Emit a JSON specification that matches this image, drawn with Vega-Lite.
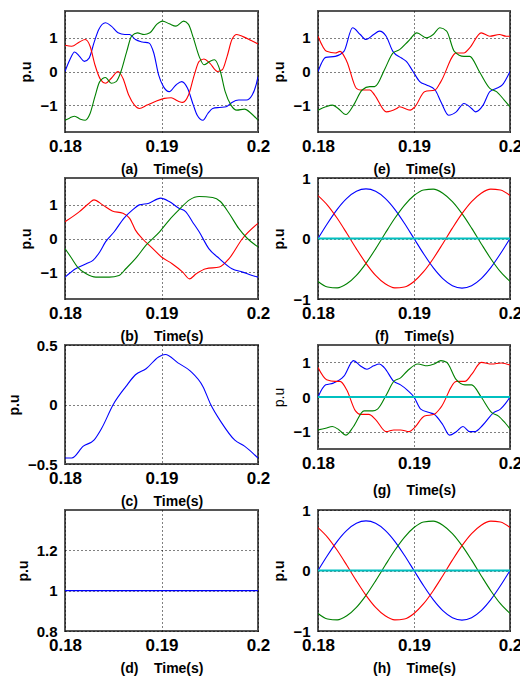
{
"$schema": "https://vega.github.io/schema/vega-lite/v6.json",
"padding": {"left": 6, "top": 10, "right": 0, "bottom": 0},
"columns": 2,
"spacing": {"row": 46, "column": 60},
"bounds": "flush",
"config": {
  "view": {"stroke": "#555555", "strokeWidth": 2},
  "font": "Liberation Sans",
  "axis": {"domain": false, "ticks": false, "grid": true, "gridColor": "#000000", "gridDash": [1, 3], "gridWidth": 1, "gridOpacity": 1,
    "labelFont": "Liberation Sans", "labelFontWeight": "bold", "labelColor": "#000000",
    "titleFont": "Liberation Sans", "titleFontWeight": "bold", "titleColor": "#000000", "titleFontSize": 14,
    "labelOverlap": false, "labelFlush": false, "labelBound": false},
  "axisX": {"labelFontSize": 17, "labelPadding": 6, "titlePadding": 8, "format": ".2~f"},
  "axisY": {"labelFontSize": 15, "labelPadding": 8, "titlePadding": 6, "format": "~g"}
},
"datasets": {
"a": [
{"t":0.18,"s":"b","v":0},{"t":0.1805,"s":"b","v":0.35},{"t":0.181,"s":"b","v":0.58},{"t":0.1815,"s":"b","v":0.45},{"t":0.182,"s":"b","v":0.3},{"t":0.1825,"s":"b","v":0.4},{"t":0.183,"s":"b","v":0.85},{"t":0.1835,"s":"b","v":1.25},{"t":0.1842,"s":"b","v":1.45},{"t":0.1848,"s":"b","v":1.35},{"t":0.1855,"s":"b","v":1.15},{"t":0.1862,"s":"b","v":1.1},{"t":0.1867,"s":"b","v":1.1},{"t":0.1873,"s":"b","v":0.95},{"t":0.188,"s":"b","v":0.88},{"t":0.1887,"s":"b","v":0.85},{"t":0.1892,"s":"b","v":0.55},{"t":0.1897,"s":"b","v":-0.1},{"t":0.1902,"s":"b","v":-0.45},{"t":0.1908,"s":"b","v":-0.6},{"t":0.1915,"s":"b","v":-0.4},{"t":0.1921,"s":"b","v":-0.3},{"t":0.1927,"s":"b","v":-0.5},{"t":0.1933,"s":"b","v":-1.0},{"t":0.1937,"s":"b","v":-1.3},{"t":0.1943,"s":"b","v":-1.45},{"t":0.1948,"s":"b","v":-1.25},{"t":0.1953,"s":"b","v":-1.1},{"t":0.196,"s":"b","v":-1.07},{"t":0.1967,"s":"b","v":-1.05},{"t":0.1973,"s":"b","v":-0.92},{"t":0.198,"s":"b","v":-0.85},{"t":0.1988,"s":"b","v":-0.85},{"t":0.1994,"s":"b","v":-0.7},{"t":0.1998,"s":"b","v":-0.4},{"t":0.2,"s":"b","v":-0.15},
{"t":0.18,"s":"r","v":0.78},{"t":0.1807,"s":"r","v":0.75},{"t":0.1815,"s":"r","v":0.88},{"t":0.1821,"s":"r","v":0.95},{"t":0.1826,"s":"r","v":0.75},{"t":0.1831,"s":"r","v":0.2},{"t":0.1837,"s":"r","v":-0.25},{"t":0.1842,"s":"r","v":-0.35},{"t":0.1848,"s":"r","v":-0.2},{"t":0.1855,"s":"r","v":0.0},{"t":0.186,"s":"r","v":-0.2},{"t":0.1866,"s":"r","v":-0.7},{"t":0.1872,"s":"r","v":-1.0},{"t":0.1877,"s":"r","v":-1.1},{"t":0.1885,"s":"r","v":-1.0},{"t":0.1893,"s":"r","v":-0.9},{"t":0.1903,"s":"r","v":-0.8},{"t":0.191,"s":"r","v":-0.78},{"t":0.1917,"s":"r","v":-0.88},{"t":0.1922,"s":"r","v":-0.92},{"t":0.1928,"s":"r","v":-0.7},{"t":0.1934,"s":"r","v":-0.1},{"t":0.1939,"s":"r","v":0.3},{"t":0.1944,"s":"r","v":0.37},{"t":0.195,"s":"r","v":0.25},{"t":0.1958,"s":"r","v":0.0},{"t":0.1963,"s":"r","v":0.05},{"t":0.1968,"s":"r","v":0.45},{"t":0.1973,"s":"r","v":0.95},{"t":0.1978,"s":"r","v":1.1},{"t":0.1985,"s":"r","v":1.03},{"t":0.1993,"s":"r","v":0.92},{"t":0.2,"s":"r","v":0.82},
{"t":0.18,"s":"g","v":-1.45},{"t":0.1805,"s":"g","v":-1.38},{"t":0.181,"s":"g","v":-1.33},{"t":0.1816,"s":"g","v":-1.42},{"t":0.1821,"s":"g","v":-1.45},{"t":0.1826,"s":"g","v":-1.25},{"t":0.1831,"s":"g","v":-0.75},{"t":0.1836,"s":"g","v":-0.3},{"t":0.1842,"s":"g","v":-0.18},{"t":0.1848,"s":"g","v":-0.35},{"t":0.1853,"s":"g","v":-0.3},{"t":0.1858,"s":"g","v":0.0},{"t":0.1864,"s":"g","v":0.6},{"t":0.1869,"s":"g","v":1.05},{"t":0.1875,"s":"g","v":1.15},{"t":0.1882,"s":"g","v":1.1},{"t":0.1888,"s":"g","v":1.15},{"t":0.1895,"s":"g","v":1.4},{"t":0.1901,"s":"g","v":1.5},{"t":0.1908,"s":"g","v":1.42},{"t":0.1915,"s":"g","v":1.35},{"t":0.1923,"s":"g","v":1.5},{"t":0.1928,"s":"g","v":1.4},{"t":0.1933,"s":"g","v":1.0},{"t":0.1939,"s":"g","v":0.45},{"t":0.1944,"s":"g","v":0.2},{"t":0.195,"s":"g","v":0.3},{"t":0.1955,"s":"g","v":0.35},{"t":0.1961,"s":"g","v":0.0},{"t":0.1966,"s":"g","v":-0.6},{"t":0.1972,"s":"g","v":-1.0},{"t":0.1978,"s":"g","v":-1.15},{"t":0.1986,"s":"g","v":-1.12},{"t":0.1993,"s":"g","v":-1.25},{"t":0.2,"s":"g","v":-1.45}
],
"e": [
{"t":0.18,"s":"b","v":0},{"t":0.1808,"s":"b","v":0.42},{"t":0.1818,"s":"b","v":0.45},{"t":0.1827,"s":"b","v":0.6},{"t":0.1836,"s":"b","v":1.3},{"t":0.1844,"s":"b","v":1.1},{"t":0.185,"s":"b","v":0.95},{"t":0.1858,"s":"b","v":1.1},{"t":0.1864,"s":"b","v":1.2},{"t":0.1871,"s":"b","v":1.05},{"t":0.1878,"s":"b","v":0.6},{"t":0.1887,"s":"b","v":0.4},{"t":0.1892,"s":"b","v":0.3},{"t":0.1899,"s":"b","v":0.0},{"t":0.1906,"s":"b","v":-0.3},{"t":0.1913,"s":"b","v":-0.4},{"t":0.1922,"s":"b","v":-0.55},{"t":0.1928,"s":"b","v":-0.9},{"t":0.1936,"s":"b","v":-1.3},{"t":0.1944,"s":"b","v":-1.2},{"t":0.1952,"s":"b","v":-0.95},{"t":0.196,"s":"b","v":-1.1},{"t":0.1964,"s":"b","v":-1.2},{"t":0.1972,"s":"b","v":-1.0},{"t":0.1979,"s":"b","v":-0.6},{"t":0.1986,"s":"b","v":-0.5},{"t":0.1992,"s":"b","v":-0.4},{"t":0.2,"s":"b","v":0.0},
{"t":0.18,"s":"r","v":1.05},{"t":0.1809,"s":"r","v":0.6},{"t":0.1818,"s":"r","v":0.55},{"t":0.1823,"s":"r","v":0.6},{"t":0.183,"s":"r","v":0.3},{"t":0.184,"s":"r","v":-0.5},{"t":0.1844,"s":"r","v":-0.55},{"t":0.1854,"s":"r","v":-0.55},{"t":0.1859,"s":"r","v":-0.7},{"t":0.1871,"s":"r","v":-1.2},{"t":0.1882,"s":"r","v":-1.1},{"t":0.1885,"s":"r","v":-1.05},{"t":0.1896,"s":"r","v":-1.15},{"t":0.1901,"s":"r","v":-1.05},{"t":0.1911,"s":"r","v":-0.6},{"t":0.1922,"s":"r","v":-0.55},{"t":0.1928,"s":"r","v":-0.3},{"t":0.1944,"s":"r","v":0.55},{"t":0.1952,"s":"r","v":0.55},{"t":0.1958,"s":"r","v":0.7},{"t":0.197,"s":"r","v":1.15},{"t":0.1979,"s":"r","v":1.05},{"t":0.1989,"s":"r","v":1.1},{"t":0.1996,"s":"r","v":1.05},{"t":0.2,"s":"r","v":1.05},
{"t":0.18,"s":"g","v":-1.15},{"t":0.1808,"s":"g","v":-1.05},{"t":0.1815,"s":"g","v":-1.0},{"t":0.1821,"s":"g","v":-1.1},{"t":0.1829,"s":"g","v":-1.28},{"t":0.1837,"s":"g","v":-1.0},{"t":0.1846,"s":"g","v":-0.55},{"t":0.1854,"s":"g","v":-0.45},{"t":0.1859,"s":"g","v":-0.45},{"t":0.187,"s":"g","v":0.1},{"t":0.1878,"s":"g","v":0.55},{"t":0.1885,"s":"g","v":0.65},{"t":0.1894,"s":"g","v":0.9},{"t":0.1903,"s":"g","v":1.15},{"t":0.1913,"s":"g","v":1.0},{"t":0.192,"s":"g","v":1.1},{"t":0.1927,"s":"g","v":1.3},{"t":0.1934,"s":"g","v":1.2},{"t":0.1942,"s":"g","v":0.6},{"t":0.1952,"s":"g","v":0.45},{"t":0.1958,"s":"g","v":0.45},{"t":0.1968,"s":"g","v":0.0},{"t":0.1979,"s":"g","v":-0.5},{"t":0.1986,"s":"g","v":-0.6},{"t":0.1994,"s":"g","v":-0.85},{"t":0.2,"s":"g","v":-1.05}
],
"b": [
{"t":0.18,"s":"r","v":0.5},{"t":0.1815,"s":"r","v":0.8},{"t":0.1825,"s":"r","v":1.05},{"t":0.183,"s":"r","v":1.15},{"t":0.1839,"s":"r","v":1.0},{"t":0.1849,"s":"r","v":0.82},{"t":0.186,"s":"r","v":0.75},{"t":0.1867,"s":"r","v":0.6},{"t":0.1873,"s":"r","v":0.25},{"t":0.188,"s":"r","v":0.0},{"t":0.1891,"s":"r","v":-0.3},{"t":0.19,"s":"r","v":-0.55},{"t":0.1911,"s":"r","v":-0.75},{"t":0.1922,"s":"r","v":-1.0},{"t":0.1929,"s":"r","v":-1.2},{"t":0.1936,"s":"r","v":-1.05},{"t":0.1946,"s":"r","v":-0.9},{"t":0.196,"s":"r","v":-0.85},{"t":0.197,"s":"r","v":-0.6},{"t":0.1984,"s":"r","v":0.0},{"t":0.2,"s":"r","v":0.45},
{"t":0.18,"s":"b","v":-1.15},{"t":0.1811,"s":"b","v":-0.9},{"t":0.1822,"s":"b","v":-0.75},{"t":0.1829,"s":"b","v":-0.65},{"t":0.1836,"s":"b","v":-0.4},{"t":0.1842,"s":"b","v":-0.1},{"t":0.1851,"s":"b","v":0.2},{"t":0.1861,"s":"b","v":0.6},{"t":0.187,"s":"b","v":0.85},{"t":0.1877,"s":"b","v":1.0},{"t":0.1887,"s":"b","v":1.05},{"t":0.1899,"s":"b","v":1.2},{"t":0.1908,"s":"b","v":1.1},{"t":0.1918,"s":"b","v":0.9},{"t":0.1925,"s":"b","v":0.8},{"t":0.1932,"s":"b","v":0.5},{"t":0.1939,"s":"b","v":0.2},{"t":0.1949,"s":"b","v":-0.3},{"t":0.196,"s":"b","v":-0.6},{"t":0.1973,"s":"b","v":-0.9},{"t":0.1984,"s":"b","v":-1.0},{"t":0.1994,"s":"b","v":-1.1},{"t":0.2,"s":"b","v":-1.15},
{"t":0.18,"s":"g","v":-0.3},{"t":0.1806,"s":"g","v":-0.55},{"t":0.1813,"s":"g","v":-0.85},{"t":0.1822,"s":"g","v":-1.05},{"t":0.1832,"s":"g","v":-1.15},{"t":0.1846,"s":"g","v":-1.15},{"t":0.1856,"s":"g","v":-1.1},{"t":0.1863,"s":"g","v":-0.9},{"t":0.1873,"s":"g","v":-0.6},{"t":0.1884,"s":"g","v":-0.2},{"t":0.1898,"s":"g","v":0.2},{"t":0.1908,"s":"g","v":0.55},{"t":0.1918,"s":"g","v":0.85},{"t":0.1929,"s":"g","v":1.15},{"t":0.1939,"s":"g","v":1.25},{"t":0.1953,"s":"g","v":1.22},{"t":0.1961,"s":"g","v":1.1},{"t":0.197,"s":"g","v":0.75},{"t":0.198,"s":"g","v":0.3},{"t":0.1989,"s":"g","v":0.0},{"t":0.2,"s":"g","v":-0.25}
],
"c": [
{"t":0.18,"s":"b","v":-0.45},{"t":0.1807,"s":"b","v":-0.45},{"t":0.1819,"s":"b","v":-0.35},{"t":0.183,"s":"b","v":-0.3},{"t":0.1838,"s":"b","v":-0.2},{"t":0.185,"s":"b","v":0.0},{"t":0.1863,"s":"b","v":0.15},{"t":0.1873,"s":"b","v":0.25},{"t":0.1884,"s":"b","v":0.3},{"t":0.1897,"s":"b","v":0.4},{"t":0.1904,"s":"b","v":0.42},{"t":0.1917,"s":"b","v":0.35},{"t":0.193,"s":"b","v":0.28},{"t":0.1943,"s":"b","v":0.15},{"t":0.1951,"s":"b","v":0.0},{"t":0.1962,"s":"b","v":-0.15},{"t":0.1976,"s":"b","v":-0.3},{"t":0.1986,"s":"b","v":-0.35},{"t":0.2,"s":"b","v":-0.45}
],
"g": [
{"t":0.18,"s":"b","v":0},{"t":0.1808,"s":"b","v":0.35},{"t":0.1816,"s":"b","v":0.4},{"t":0.1827,"s":"b","v":0.6},{"t":0.1837,"s":"b","v":1.05},{"t":0.1844,"s":"b","v":0.9},{"t":0.1851,"s":"b","v":0.8},{"t":0.1858,"s":"b","v":0.9},{"t":0.1864,"s":"b","v":0.95},{"t":0.1869,"s":"b","v":0.85},{"t":0.1879,"s":"b","v":0.45},{"t":0.1886,"s":"b","v":0.35},{"t":0.1893,"s":"b","v":0.2},{"t":0.19,"s":"b","v":0.0},{"t":0.1907,"s":"b","v":-0.35},{"t":0.1916,"s":"b","v":-0.45},{"t":0.1921,"s":"b","v":-0.5},{"t":0.193,"s":"b","v":-0.8},{"t":0.1937,"s":"b","v":-1.1},{"t":0.1944,"s":"b","v":-1.0},{"t":0.1951,"s":"b","v":-0.85},{"t":0.1958,"s":"b","v":-1.0},{"t":0.1963,"s":"b","v":-1.0},{"t":0.1972,"s":"b","v":-0.8},{"t":0.1983,"s":"b","v":-0.45},{"t":0.199,"s":"b","v":-0.35},{"t":0.1995,"s":"b","v":-0.2},{"t":0.2,"s":"b","v":0.0},
{"t":0.18,"s":"r","v":0.85},{"t":0.1809,"s":"r","v":0.5},{"t":0.1818,"s":"r","v":0.45},{"t":0.1823,"s":"r","v":0.45},{"t":0.183,"s":"r","v":0.2},{"t":0.1839,"s":"r","v":-0.4},{"t":0.1844,"s":"r","v":-0.5},{"t":0.1853,"s":"r","v":-0.5},{"t":0.186,"s":"r","v":-0.65},{"t":0.1871,"s":"r","v":-1.0},{"t":0.1879,"s":"r","v":-0.95},{"t":0.1886,"s":"r","v":-0.95},{"t":0.1895,"s":"r","v":-1.0},{"t":0.19,"s":"r","v":-0.9},{"t":0.1911,"s":"r","v":-0.55},{"t":0.1921,"s":"r","v":-0.5},{"t":0.1928,"s":"r","v":-0.3},{"t":0.1944,"s":"r","v":0.45},{"t":0.1953,"s":"r","v":0.45},{"t":0.196,"s":"r","v":0.65},{"t":0.197,"s":"r","v":1.0},{"t":0.1981,"s":"r","v":0.95},{"t":0.1991,"s":"r","v":0.98},{"t":0.2,"s":"r","v":0.92},
{"t":0.18,"s":"g","v":-0.95},{"t":0.1808,"s":"g","v":-0.9},{"t":0.1815,"s":"g","v":-0.85},{"t":0.1822,"s":"g","v":-0.95},{"t":0.1829,"s":"g","v":-1.1},{"t":0.1837,"s":"g","v":-0.85},{"t":0.1848,"s":"g","v":-0.4},{"t":0.1857,"s":"g","v":-0.4},{"t":0.1862,"s":"g","v":-0.35},{"t":0.1871,"s":"g","v":0.05},{"t":0.1879,"s":"g","v":0.45},{"t":0.1886,"s":"g","v":0.55},{"t":0.1893,"s":"g","v":0.75},{"t":0.1904,"s":"g","v":0.95},{"t":0.1914,"s":"g","v":0.9},{"t":0.1921,"s":"g","v":0.95},{"t":0.1928,"s":"g","v":1.05},{"t":0.1934,"s":"g","v":1.0},{"t":0.1944,"s":"g","v":0.5},{"t":0.1953,"s":"g","v":0.35},{"t":0.196,"s":"g","v":0.35},{"t":0.197,"s":"g","v":0.0},{"t":0.1981,"s":"g","v":-0.45},{"t":0.1988,"s":"g","v":-0.55},{"t":0.1995,"s":"g","v":-0.75},{"t":0.2,"s":"g","v":-0.92},
{"t":0.18,"s":"c","v":0},{"t":0.2,"s":"c","v":0}
],
"d": [
{"t":0.18,"s":"b","v":1},{"t":0.19,"s":"b","v":1},{"t":0.2,"s":"b","v":1}
],
"f": [
{"t":0.18,"s":"b","v":0},{"t":0.181,"s":"b","v":0.253},{"t":0.182,"s":"b","v":0.482},{"t":0.183,"s":"b","v":0.663},{"t":0.184,"s":"b","v":0.78},{"t":0.185,"s":"b","v":0.82},{"t":0.186,"s":"b","v":0.78},{"t":0.187,"s":"b","v":0.663},{"t":0.188,"s":"b","v":0.482},{"t":0.189,"s":"b","v":0.253},{"t":0.19,"s":"b","v":0},{"t":0.191,"s":"b","v":-0.253},{"t":0.192,"s":"b","v":-0.482},{"t":0.193,"s":"b","v":-0.663},{"t":0.194,"s":"b","v":-0.78},{"t":0.195,"s":"b","v":-0.82},{"t":0.196,"s":"b","v":-0.78},{"t":0.197,"s":"b","v":-0.663},{"t":0.198,"s":"b","v":-0.482},{"t":0.199,"s":"b","v":-0.253},{"t":0.2,"s":"b","v":0},
{"t":0.18,"s":"g","v":-0.71},{"t":0.181,"s":"g","v":-0.802},{"t":0.182,"s":"g","v":-0.816},{"t":0.183,"s":"g","v":-0.749},{"t":0.184,"s":"g","v":-0.609},{"t":0.185,"s":"g","v":-0.41},{"t":0.186,"s":"g","v":-0.171},{"t":0.187,"s":"g","v":0.086},{"t":0.188,"s":"g","v":0.334},{"t":0.189,"s":"g","v":0.549},{"t":0.19,"s":"g","v":0.71},{"t":0.191,"s":"g","v":0.802},{"t":0.192,"s":"g","v":0.816},{"t":0.193,"s":"g","v":0.749},{"t":0.194,"s":"g","v":0.609},{"t":0.195,"s":"g","v":0.41},{"t":0.196,"s":"g","v":0.171},{"t":0.197,"s":"g","v":-0.086},{"t":0.198,"s":"g","v":-0.334},{"t":0.199,"s":"g","v":-0.549},{"t":0.2,"s":"g","v":-0.71},
{"t":0.18,"s":"r","v":0.71},{"t":0.181,"s":"r","v":0.549},{"t":0.182,"s":"r","v":0.334},{"t":0.183,"s":"r","v":0.086},{"t":0.184,"s":"r","v":-0.171},{"t":0.185,"s":"r","v":-0.41},{"t":0.186,"s":"r","v":-0.609},{"t":0.187,"s":"r","v":-0.749},{"t":0.188,"s":"r","v":-0.816},{"t":0.189,"s":"r","v":-0.802},{"t":0.19,"s":"r","v":-0.71},{"t":0.191,"s":"r","v":-0.549},{"t":0.192,"s":"r","v":-0.334},{"t":0.193,"s":"r","v":-0.086},{"t":0.194,"s":"r","v":0.171},{"t":0.195,"s":"r","v":0.41},{"t":0.196,"s":"r","v":0.609},{"t":0.197,"s":"r","v":0.749},{"t":0.198,"s":"r","v":0.816},{"t":0.199,"s":"r","v":0.802},{"t":0.2,"s":"r","v":0.71},
{"t":0.18,"s":"c","v":0},{"t":0.2,"s":"c","v":0}
]
},
"concat": [
{"width":193,"height":121,"data":{"name":"a"},"mark":{"type":"line","interpolate":"monotone","clip":true},
 "encoding":{"x":{"field":"t","type":"quantitative","scale":{"domain":[0.18,0.2],"nice":false,"zero":false},"axis":{"values":[0.18,0.19,0.2],"title":"(a)\u00a0\u00a0\u00a0\u00a0Time(s)"}},
  "y":{"field":"v","type":"quantitative","scale":{"domain":[-1.8,1.8],"nice":false,"zero":false},"axis":{"values":[-1,0,1],"title":"p.u"}},
  "color":{"field":"s","type":"nominal","scale":{"domain":["r","g","b","c"],"range":["#ff0000","#008000","#0000ff","#00c0c0"]},"legend":null},
  "strokeWidth":{"condition":{"test":"datum.s === 'c'","value":2},"value":1.1}}},
{"width":192,"height":121,"data":{"name":"e"},"mark":{"type":"line","interpolate":"monotone","clip":true},
 "encoding":{"x":{"field":"t","type":"quantitative","scale":{"domain":[0.18,0.2],"nice":false,"zero":false},"axis":{"values":[0.18,0.19,0.2],"title":"(e)\u00a0\u00a0\u00a0\u00a0Time(s)"}},
  "y":{"field":"v","type":"quantitative","scale":{"domain":[-1.8,1.8],"nice":false,"zero":false},"axis":{"values":[-1,0,1],"title":"p.u"}},
  "color":{"field":"s","type":"nominal","scale":{"domain":["r","g","b","c"],"range":["#ff0000","#008000","#0000ff","#00c0c0"]},"legend":null},
  "strokeWidth":{"condition":{"test":"datum.s === 'c'","value":2},"value":1.1}}},
{"width":193,"height":121,"data":{"name":"b"},"mark":{"type":"line","interpolate":"monotone","clip":true},
 "encoding":{"x":{"field":"t","type":"quantitative","scale":{"domain":[0.18,0.2],"nice":false,"zero":false},"axis":{"values":[0.18,0.19,0.2],"title":"(b)\u00a0\u00a0\u00a0\u00a0Time(s)"}},
  "y":{"field":"v","type":"quantitative","scale":{"domain":[-1.8,1.8],"nice":false,"zero":false},"axis":{"values":[-1,0,1],"title":"p.u"}},
  "color":{"field":"s","type":"nominal","scale":{"domain":["r","g","b","c"],"range":["#ff0000","#008000","#0000ff","#00c0c0"]},"legend":null},
  "strokeWidth":{"condition":{"test":"datum.s === 'c'","value":2},"value":1.1}}},
{"width":192,"height":121,"data":{"name":"f"},"mark":{"type":"line","interpolate":"monotone","clip":true},
 "encoding":{"x":{"field":"t","type":"quantitative","scale":{"domain":[0.18,0.2],"nice":false,"zero":false},"axis":{"values":[0.18,0.19,0.2],"title":"(f)\u00a0\u00a0\u00a0\u00a0Time(s)"}},
  "y":{"field":"v","type":"quantitative","scale":{"domain":[-1,1],"nice":false,"zero":false},"axis":{"values":[-1,0,1],"title":"p.u"}},
  "color":{"field":"s","type":"nominal","scale":{"domain":["r","g","b","c"],"range":["#ff0000","#008000","#0000ff","#00c0c0"]},"legend":null},
  "strokeWidth":{"condition":{"test":"datum.s === 'c'","value":2},"value":1.1}}},
{"width":193,"height":119,"data":{"name":"c"},"mark":{"type":"line","interpolate":"monotone","clip":true},
 "encoding":{"x":{"field":"t","type":"quantitative","scale":{"domain":[0.18,0.2],"nice":false,"zero":false},"axis":{"values":[0.18,0.19,0.2],"title":"(c)\u00a0\u00a0\u00a0\u00a0Time(s)"}},
  "y":{"field":"v","type":"quantitative","scale":{"domain":[-0.5,0.5],"nice":false,"zero":false},"axis":{"values":[-0.5,0,0.5],"title":"p.u"}},
  "color":{"field":"s","type":"nominal","scale":{"domain":["r","g","b","c"],"range":["#ff0000","#008000","#0000ff","#00c0c0"]},"legend":null},
  "strokeWidth":{"condition":{"test":"datum.s === 'c'","value":2},"value":1.1}}},
{"width":192,"height":104,"data":{"name":"g"},"mark":{"type":"line","interpolate":"monotone","clip":true},
 "encoding":{"x":{"field":"t","type":"quantitative","scale":{"domain":[0.18,0.2],"nice":false,"zero":false},"axis":{"values":[0.18,0.19,0.2],"title":"(g)\u00a0\u00a0\u00a0\u00a0Time(s)","titlePadding":12}},
  "y":{"field":"v","type":"quantitative","scale":{"domain":[-1.5,1.5],"nice":false,"zero":false},"axis":{"values":[-1,0,1],"title":"p.u","titleFontWeight":"normal"}},
  "color":{"field":"s","type":"nominal","scale":{"domain":["r","g","b","c"],"range":["#ff0000","#008000","#0000ff","#00c0c0"]},"legend":null},
  "strokeWidth":{"condition":{"test":"datum.s === 'c'","value":2},"value":1.1}}},
{"width":193,"height":121,"data":{"name":"d"},"mark":{"type":"line","interpolate":"monotone","clip":true},
 "encoding":{"x":{"field":"t","type":"quantitative","scale":{"domain":[0.18,0.2],"nice":false,"zero":false},"axis":{"values":[0.18,0.19,0.2],"title":"(d)\u00a0\u00a0\u00a0\u00a0Time(s)"}},
  "y":{"field":"v","type":"quantitative","scale":{"domain":[0.8,1.4],"nice":false,"zero":false},"axis":{"values":[0.8,1,1.2],"title":"p.u"}},
  "color":{"field":"s","type":"nominal","scale":{"domain":["r","g","b","c"],"range":["#ff0000","#008000","#0000ff","#00c0c0"]},"legend":null},
  "strokeWidth":{"condition":{"test":"datum.s === 'c'","value":2},"value":1.1}}},
{"width":192,"height":121,"data":{"name":"f"},"mark":{"type":"line","interpolate":"monotone","clip":true},
 "encoding":{"x":{"field":"t","type":"quantitative","scale":{"domain":[0.18,0.2],"nice":false,"zero":false},"axis":{"values":[0.18,0.19,0.2],"title":"(h)\u00a0\u00a0\u00a0\u00a0Time(s)"}},
  "y":{"field":"v","type":"quantitative","scale":{"domain":[-1,1],"nice":false,"zero":false},"axis":{"values":[-1,0,1],"title":"p.u"}},
  "color":{"field":"s","type":"nominal","scale":{"domain":["r","g","b","c"],"range":["#ff0000","#008000","#0000ff","#00c0c0"]},"legend":null},
  "strokeWidth":{"condition":{"test":"datum.s === 'c'","value":2},"value":1.1}}}
]
}
